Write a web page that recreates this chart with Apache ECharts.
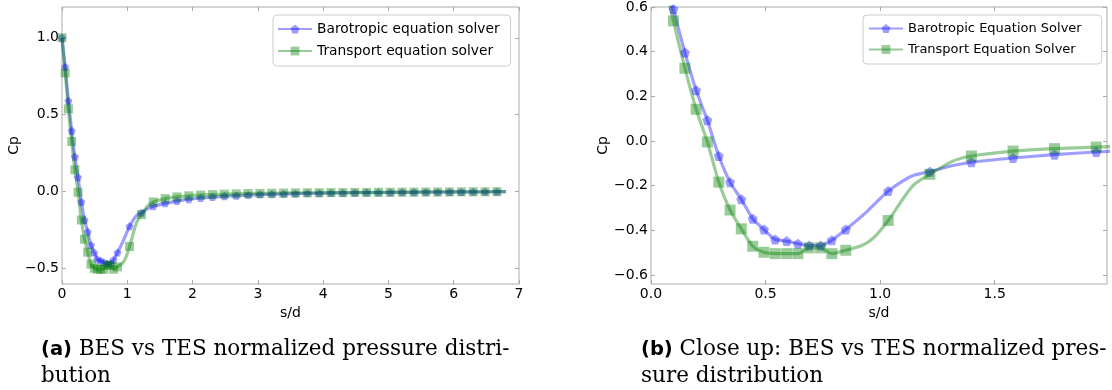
<!DOCTYPE html>
<html>
<head>
<meta charset="utf-8">
<script src="https://cdn.jsdelivr.net/npm/echarts@6/dist/echarts.min.js"></script>
<style>
  html, body { margin: 0; padding: 0; background: #fff; }
  #chart { width: 1112px; height: 390px; }
</style>
</head>
<body>
<div id="chart"></div>
<script>
// Arc length s/d at the marked stations
const sd = [0, 0.049, 0.098, 0.148, 0.197, 0.246, 0.296, 0.345, 0.394, 0.444,
  0.493, 0.542, 0.592, 0.641, 0.690, 0.740, 0.789, 0.850,
  1.035, 1.217, 1.398, 1.580, 1.761, 1.943, 2.124, 2.306, 2.487, 2.669,
  2.850, 3.032, 3.213, 3.395, 3.576, 3.758, 3.939, 4.121, 4.302, 4.484,
  4.665, 4.847, 5.028, 5.210, 5.391, 5.573, 5.754, 5.936, 6.117, 6.299,
  6.480, 6.662];

// Pressure coefficient, barotropic equation solver
const cpBES = [1.00, 0.81, 0.59, 0.396, 0.227, 0.093, -0.067, -0.184, -0.261, -0.348,
  -0.396, -0.441, -0.448, -0.460, -0.468, -0.468, -0.444, -0.396,
  -0.224, -0.137, -0.095, -0.076, -0.061, -0.049, -0.041, -0.035, -0.030, -0.026,
  -0.022, -0.019, -0.017, -0.015, -0.013, -0.011, -0.010, -0.009, -0.008, -0.007,
  -0.006, -0.006, -0.005, -0.004, -0.004, -0.003, -0.003, -0.002, -0.002, -0.001,
  -0.001, 0.000];

// Pressure coefficient, transport equation solver
const cpTES = [1.00, 0.772, 0.538, 0.326, 0.142, -0.004, -0.184, -0.309, -0.393, -0.471,
  -0.498, -0.504, -0.504, -0.504, -0.478, -0.478, -0.504, -0.489,
  -0.356, -0.149, -0.067, -0.045, -0.034, -0.027, -0.022, -0.019, -0.016, -0.014,
  -0.012, -0.011, -0.010, -0.009, -0.008, -0.007, -0.007, -0.006, -0.006, -0.005,
  -0.005, -0.004, -0.004, -0.003, -0.003, -0.002, -0.002, -0.002, -0.001, -0.001,
  -0.001, 0.000];

// Unmarked stations between the markers (curve only)
const sdLineBES = [0.94, 1.10, 1.145, 1.30, 6.80];
const cpLineBES = [-0.318, -0.178, -0.154, -0.114, 0.000];
const sdLineTES = [0.92, 0.972, 1.141, 1.317, 6.80];
const cpLineTES = [-0.468, -0.433, -0.202, -0.090, 0.000];

// Tick labels
const xTicksA = [0, 1, 2, 3, 4, 5, 6, 7];
const yTicksA = [-0.5, 0.0, 0.5, 1.0];
const xTicksB = [0.0, 0.5, 1.0, 1.5];
const yTicksB = [-0.6, -0.4, -0.2, 0.0, 0.2, 0.4, 0.6];

const namesA = ['Barotropic equation solver', 'Transport equation solver'];
const namesB = ['Barotropic Equation Solver', 'Transport Equation Solver'];

const BLUE = 'rgba(0,0,255,0.38)';
const GREEN = 'rgba(0,128,0,0.40)';
const FRAME = '#aaaaaa';
const PENTAGON = 'path://M0,-1 L0.951,-0.309 L0.588,0.809 L-0.588,0.809 L-0.951,-0.309 Z';
const FONT = 'DejaVu Sans';

function buildData(xs, ys, lx, ly) {
  const pts = xs.map((x, i) => ({ value: [x, ys[i]] }));
  lx.forEach((x, i) => pts.push({ value: [x, ly[i]], symbol: 'none' }));
  pts.sort((a, b) => a.value[0] - b.value[0]);
  return pts;
}

function fmt(digits) {
  return v => {
    const s = Number(v).toFixed(digits);
    return s.startsWith('-') ? '\u2212' + s.slice(1) : s;
  };
}

const tickStyle = ticks => ({ show: true, inside: true, length: 4, customValues: ticks, lineStyle: { color: FRAME } });

function mainX(grid, min, max, ticks, digits, gap) {
  return {
    type: 'value', gridIndex: grid, min: min, max: max, position: 'bottom',
    name: 's/d', nameLocation: 'middle', nameGap: gap,
    nameTextStyle: { fontFamily: FONT, fontSize: 14, color: '#000' },
    axisLine: { show: false, onZero: false },
    axisTick: tickStyle(ticks),
    axisLabel: { show: true, customValues: ticks, formatter: fmt(digits), margin: 3,
      fontFamily: FONT, fontSize: 14, color: '#000' },
    splitLine: { show: false }
  };
}
function sideX(grid, min, max, ticks) {
  return {
    type: 'value', gridIndex: grid, min: min, max: max, position: 'top',
    axisLine: { show: false, onZero: false },
    axisTick: tickStyle(ticks),
    axisLabel: { show: false }, splitLine: { show: false }
  };
}
function mainY(grid, min, max, ticks, gap) {
  return {
    type: 'value', gridIndex: grid, min: min, max: max, position: 'left',
    name: 'Cp', nameLocation: 'middle', nameGap: gap, nameRotate: 90,
    nameTextStyle: { fontFamily: FONT, fontSize: 14, color: '#000' },
    axisLine: { show: false, onZero: false },
    axisTick: tickStyle(ticks),
    axisLabel: { show: true, customValues: ticks, formatter: fmt(1), margin: 3,
      fontFamily: FONT, fontSize: 14, color: '#000' },
    splitLine: { show: false }
  };
}
function sideY(grid, min, max, ticks) {
  return {
    type: 'value', gridIndex: grid, min: min, max: max, position: 'right',
    axisLine: { show: false, onZero: false },
    axisTick: tickStyle(ticks),
    axisLabel: { show: false }, splitLine: { show: false }
  };
}

function curve(name, grid, data, color, symbol, size) {
  return {
    type: 'line', name: name, xAxisIndex: grid * 2, yAxisIndex: grid * 2,
    data: data, smooth: 0.25, clip: true,
    symbol: symbol, symbolSize: size, showAllSymbol: true,
    lineStyle: { color: color, width: 3.2 },
    itemStyle: { color: color, borderWidth: 0 },
    emphasis: { disabled: true },
    animation: false
  };
}

function legendBox(names, left, fontSize, padding) {
  return {
    data: names, orient: 'vertical', left: left, top: 15,
    itemWidth: 34, itemHeight: 11, itemGap: 8,
    padding: padding, borderColor: '#cccccc', borderWidth: 1, borderRadius: 4,
    backgroundColor: '#ffffff',
    textStyle: { fontFamily: FONT, fontSize: fontSize, color: '#000' },
    selectedMode: false
  };
}

function caption(text, left) {
  return {
    text: text, left: left, top: 336, padding: 0,
    textStyle: {
      fontFamily: 'DejaVu Serif', fontSize: 21.5, fontWeight: 'normal', color: '#000', lineHeight: 27,
      rich: { b: { fontFamily: FONT, fontWeight: 'bold', fontSize: 19.5, lineHeight: 27, color: '#000' } }
    }
  };
}

const dataBES = buildData(sd, cpBES, sdLineBES, cpLineBES);
const dataTES = buildData(sd, cpTES, sdLineTES, cpLineTES);

const chart = echarts.init(document.getElementById('chart'), null, { renderer: 'canvas' });
chart.setOption({
  animation: false,
  title: [
    caption('{b|(a)} BES vs TES normalized pressure distri-\nbution', 41),
    caption('{b|(b)} Close up: BES vs TES normalized pres-\nsure distribution', 641)
  ],
  grid: [
    { left: 62, top: 7, width: 457, height: 277, show: true, borderColor: FRAME, borderWidth: 1, backgroundColor: 'transparent' },
    { left: 651, top: 7, width: 456, height: 277, show: true, borderColor: FRAME, borderWidth: 1, backgroundColor: 'transparent' }
  ],
  xAxis: [
    mainX(0, 0, 7, xTicksA, 0, 14), sideX(0, 0, 7, xTicksA),
    mainX(1, 0, 1.99, xTicksB, 1, 19), sideX(1, 0, 1.99, xTicksB)
  ],
  yAxis: [
    mainY(0, -0.6, 1.2, yTicksA, 31), sideY(0, -0.6, 1.2, yTicksA),
    mainY(1, -0.64, 0.6, yTicksB, 35), sideY(1, -0.64, 0.6, yTicksB)
  ],
  legend: [
    legendBox(namesA, 273, 13.8, [7, 11, 8, 4]),
    legendBox(namesB, 863, 13, [7, 20, 8, 5])
  ],
  series: [
    curve(namesA[0], 0, dataBES, BLUE, PENTAGON, 8),
    curve(namesA[1], 0, dataTES, GREEN, 'rect', 9),
    curve(namesB[0], 1, dataBES, BLUE, PENTAGON, 10),
    curve(namesB[1], 1, dataTES, GREEN, 'rect', 11)
  ]
});
</script>
</body>
</html>
